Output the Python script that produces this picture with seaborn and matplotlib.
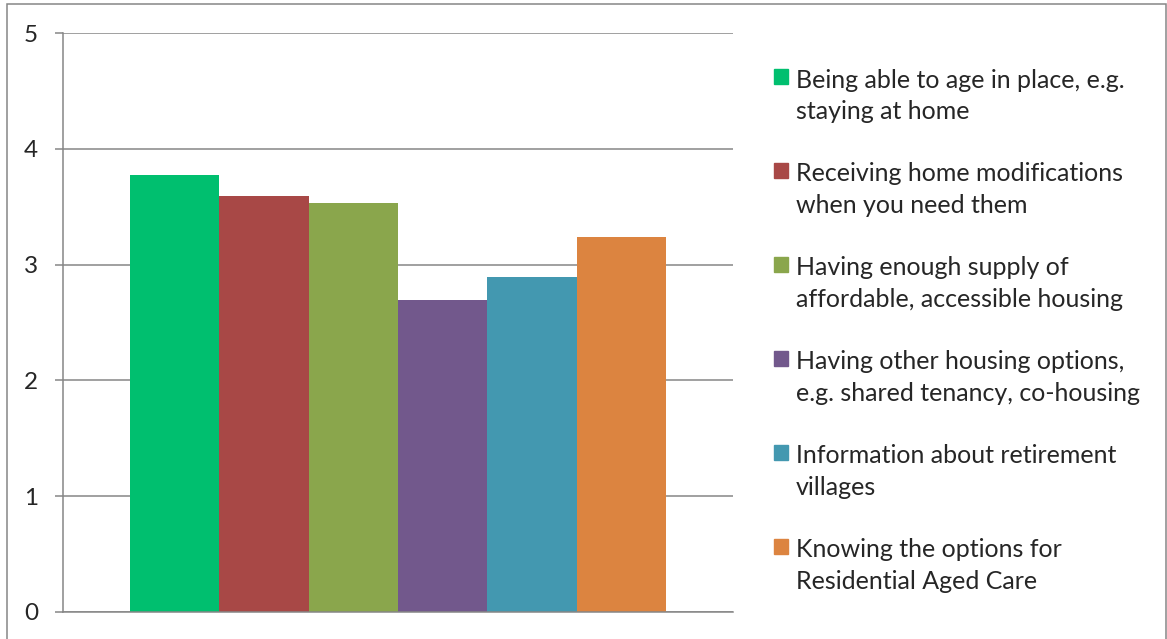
import pandas as pd
import matplotlib
matplotlib.use("Agg")
import matplotlib.pyplot as plt
import seaborn as sns
from matplotlib.patches import Rectangle

# chart data
categories = [
    "Being able to age in place, e.g.\nstaying at home",
    "Receiving home modifications\nwhen you need them",
    "Having enough supply of\naffordable, accessible housing",
    "Having other housing options,\ne.g. shared tenancy, co-housing",
    "Information about retirement\nvillages",
    "Knowing the options for\nResidential Aged Care",
]
scores = [3.77, 3.59, 3.53, 2.69, 2.89, 3.24]
bar_colors = ["#00BF6F", "#A84846", "#8AA64C", "#72588C", "#4398B0", "#DC8440"]
y_ticks = [0, 1, 2, 3, 4, 5]

df = pd.DataFrame({"group": [""] * len(categories), "category": categories, "score": scores})

sns.set_style("white")
plt.rcParams["font.family"] = ["Lato", "DejaVu Sans"]

fig = plt.figure(figsize=(11.67, 6.39), dpi=100)
ax = fig.add_axes([63 / 1167, 27 / 639, 670 / 1167, 579 / 639])

sns.barplot(data=df, x="group", y="score", hue="category", hue_order=categories,
            palette=bar_colors, saturation=1, width=0.8, ax=ax, legend=False,
            linewidth=0, edgecolor="none")

grid_col = "#868686"
ax.set_ylim(0, 5)
ax.set_xlim(-0.5, 0.5)
ax.set_yticks(y_ticks)
ax.set_xticks([])
ax.set_xlabel("")
ax.set_ylabel("")
ax.yaxis.grid(True, color=grid_col, linewidth=1.1)
ax.set_axisbelow(True)
for s in ["top", "right"]:
    ax.spines[s].set_visible(False)
for s in ["left", "bottom"]:
    ax.spines[s].set_color(grid_col)
    ax.spines[s].set_linewidth(1.1)
ax.tick_params(axis="y", direction="out", length=6, width=1.1, color=grid_col,
               pad=12, labelsize=17.5, left=True)

# legend on the right, squares next to first line of each entry
fs = 18
handles = [Rectangle((0, 0), 1, 1, color=c) for c in bar_colors]
leg = fig.legend(handles, categories, loc="upper left",
                 bbox_to_anchor=(756 / 1167, 1 - 51 / 639), frameon=False,
                 fontsize=fs, handlelength=0.56, handleheight=0.56,
                 handletextpad=0.32, labelspacing=1.56, borderpad=0.2)
for t in leg.get_texts():
    t.set_linespacing(1.47)
for h in leg.legend_handles:
    h.set_y(h.get_y() + 14.4)

# chart border
fig.add_artist(Rectangle((7 / 1167, -0.05), 1159 / 1167, 1.05 - 4 / 639,
                         transform=fig.transFigure, fill=False,
                         edgecolor=grid_col, linewidth=1.1))

fig.savefig("out.png", dpi=100)
